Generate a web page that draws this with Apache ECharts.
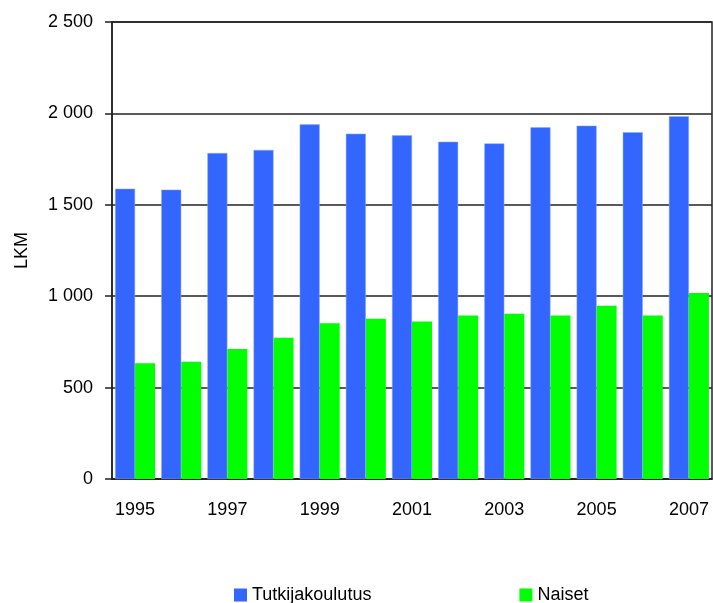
<!DOCTYPE html>
<html>
<head>
<meta charset="utf-8">
<script src="https://cdn.jsdelivr.net/npm/echarts@6/dist/echarts.min.js"></script>
<style>
  html, body { margin: 0; padding: 0; background: #fff; }
  #main { width: 713px; height: 603px; }
</style>
</head>
<body>
<div id="main"></div>
<script>
// vuodet ja arvot (luettu kuvasta)
var vuodet = ['1995','1996','1997','1998','1999','2000','2001','2002','2003','2004','2005','2006','2007'];
var tutkijakoulutus = [1588, 1583, 1783, 1800, 1940, 1889, 1880, 1845, 1836, 1924, 1933, 1897, 1984];
var naiset = [633, 642, 711, 773, 852, 877, 861, 895, 904, 895, 948, 895, 1017];
var yTicks = [0, 500, 1000, 1500, 2000, 2500];

var fontName = '"Liberation Sans", Arial, sans-serif';

// tuhaterotin välilyönnillä
function muotoile(v) {
    return String(v).replace(/\B(?=(\d{3})+(?!\d))/g, ' ');
}

var myChart = echarts.init(document.getElementById('main'));
myChart.setOption({
    animation: false,
    grid: {
        left: 112, right: 1, top: 22, bottom: 124,
        show: true,
        borderColor: '#222',
        borderWidth: 1.5
    },
    legend: {
        left: 229,
        top: 581,
        itemWidth: 13,
        itemHeight: 13,
        itemGap: 148,
        icon: 'rect',
        itemStyle: { borderWidth: 0 },
        textStyle: { fontFamily: fontName, fontSize: 18, color: '#000' },
        data: ['Tutkijakoulutus', 'Naiset']
    },
    xAxis: {
        type: 'category',
        data: vuodet,
        axisLine: { lineStyle: { color: '#222', width: 1.5 } },
        axisTick: { interval: 0, length: 6, lineStyle: { color: '#222', width: 1.5 } },
        axisLabel: {
            interval: 1,
            margin: 22,
            fontFamily: fontName,
            fontSize: 18,
            color: '#000'
        }
    },
    yAxis: {
        type: 'value',
        min: yTicks[0],
        max: yTicks[yTicks.length - 1],
        interval: 500,
        name: 'LKM',
        nameLocation: 'middle',
        nameGap: 81,
        nameTextStyle: { fontFamily: fontName, fontSize: 18, color: '#000' },
        axisLine: { show: true, lineStyle: { color: '#222', width: 1.5 } },
        axisTick: { show: true, length: 7, lineStyle: { color: '#222', width: 1.5 } },
        splitLine: { lineStyle: { color: '#222', width: 1.5 } },
        axisLabel: {
            margin: 19,
            fontFamily: fontName,
            fontSize: 18,
            color: '#000',
            formatter: muotoile
        }
    },
    series: [
        {
            name: 'Tutkijakoulutus',
            type: 'bar',
            data: tutkijakoulutus,
            barWidth: 20,
            barGap: '0%',
            itemStyle: { color: '#3366ff', borderColor: '#8fa8ff', borderWidth: 0.5 }
        },
        {
            name: 'Naiset',
            type: 'bar',
            data: naiset,
            barWidth: 20,
            itemStyle: { color: '#00ff00' }
        }
    ]
});
</script>
</body>
</html>
